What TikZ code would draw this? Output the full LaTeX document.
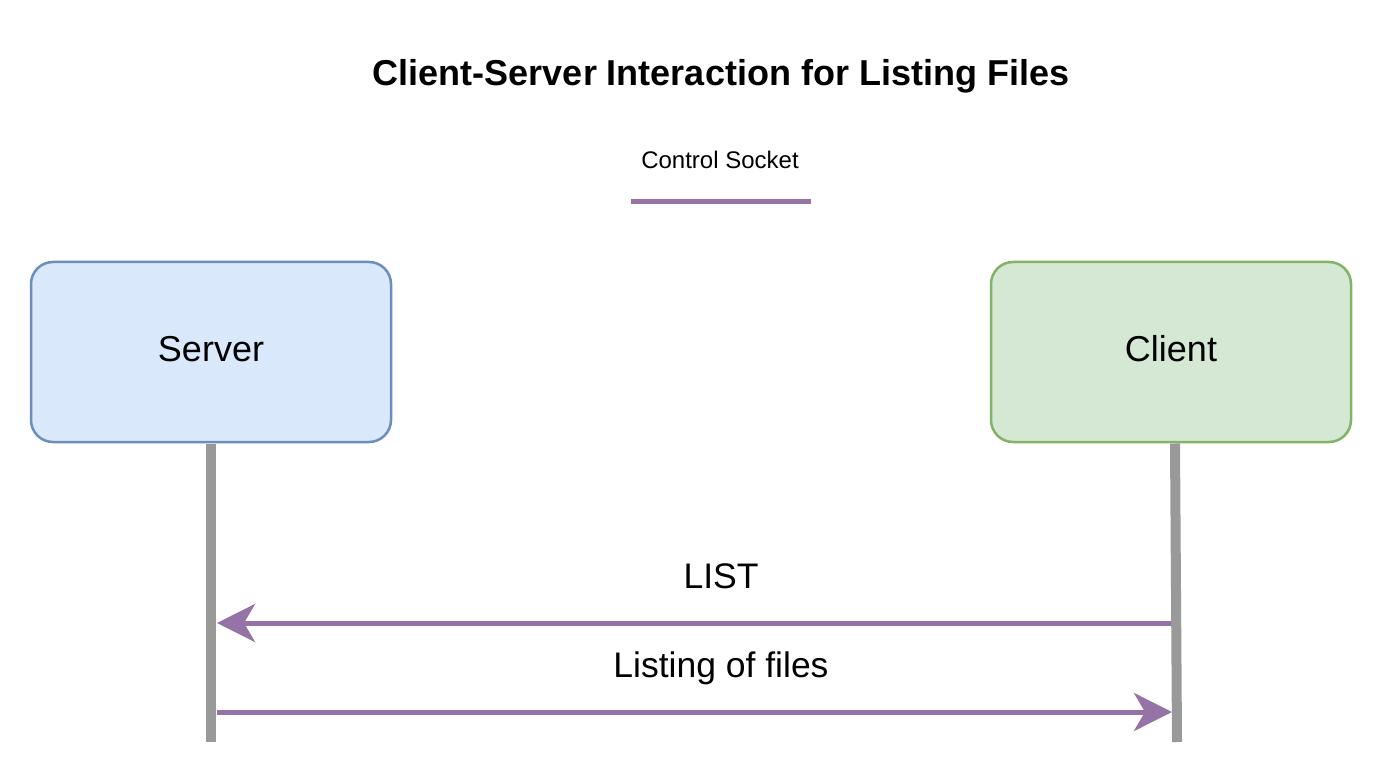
\documentclass[tikz,border=0pt]{standalone}
\usepackage{fontspec}
\setmainfont{Liberation Sans}
\usetikzlibrary{arrows.meta}
\definecolor{bluefill}{HTML}{DAE8FC}
\definecolor{bluedraw}{HTML}{6C8EBF}
\definecolor{greenfill}{HTML}{D5E8D4}
\definecolor{greendraw}{HTML}{82B366}
\definecolor{purp}{HTML}{9673A6}
\definecolor{lifegray}{HTML}{999999}
\newcommand{\uplift}[1]{\raisebox{6.6pt}{#1}}
\tikzset{
  actorbox/.style={rounded corners=22pt, line width=2.5pt, minimum width=360pt, minimum height=180pt, inner sep=0pt, font=\fontsize{36}{40}\selectfont},
  lifeline/.style={draw=lifegray, line width=10pt},
  msg/.style={draw=purp, line width=5pt, -{Stealth[length=38pt,width=38pt,inset=11pt,fill=purp]}},
  msglabel/.style={font=\fontsize{35.5}{40}\selectfont, inner sep=0pt, anchor=base},
}
\begin{document}
\begin{tikzpicture}[x=1pt,y=1pt]
\useasboundingbox[fill=white] (0,0) rectangle (1383,-783);
\node[font=\bfseries\fontsize{36}{40}\selectfont, anchor=base, inner sep=0pt] (title) at (721,-86) {Client-Server Interaction for Listing Files};
\node[font=\fontsize{24}{28}\selectfont, anchor=base, inner sep=0pt] (legend) at (720,-168.3) {Control Socket};
\coordinate (legA) at (631,-202);
\coordinate (legB) at (811,-202);
\draw[draw=purp, line width=5pt] (legA) -- (legB);
\node[actorbox, fill=bluefill, draw=bluedraw] (server) at (211,-352) {\uplift{Server}};
\node[actorbox, fill=greenfill, draw=greendraw] (client) at (1171,-352) {\uplift{Client}};
\coordinate (sBot) at (211,-742);
\coordinate (cTop) at (1175,-443.5);
\coordinate (cBot) at (1177,-742);
\draw[lifeline] (server.south) ++(0,-1.2) -- (sBot);
\draw[lifeline] (cTop) -- (cBot);
\coordinate (s1) at (217,-623);
\coordinate (c1) at (1171,-623);
\coordinate (s2) at (217,-712);
\coordinate (c2) at (1172,-712);
\draw[msg] (c1) -- (s1);
\draw[msg] (s2) -- (c2);
\node[msglabel] (lbl1) at (721,-588.3) {LIST};
\node[msglabel] (lbl2) at (721,-677.3) {Listing of files};
\end{tikzpicture}
\end{document}
